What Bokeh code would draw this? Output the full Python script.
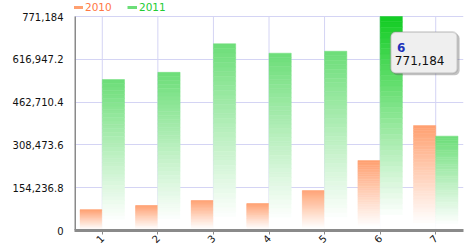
from bokeh.plotting import figure
from bokeh.models import (FixedTicker, Range1d, BoxAnnotation, Label, Legend, LegendItem,
                          ColumnDataSource)
from bokeh.embed import file_html
from bokeh.resources import INLINE
import math

# ---- data ----
categories = ["1", "2", "3", "4", "5", "6", "7"]
series_names = ["2010", "2011"]
values_2010 = [75000, 90000, 108000, 97000, 144000, 252000, 378000]
values_2011 = [544000, 570000, 673000, 639000, 646000, 771184, 340000]
hover_index = 5  # category "6", series 2011

y_max = max(values_2010 + values_2011)
y_ticks = [y_max * i / 5 for i in range(6)]

def fmt(v):
    s = "{:,.1f}".format(v)
    return s[:-2] if s.endswith(".0") else s

y_labels = {t: fmt(t) for t in y_ticks}

FONT = "DejaVu Sans"
c2010 = (255, 160, 112)
c2011 = (108, 222, 120)
c_hover = (17, 204, 34)
GRID = "#d4d4f4"
AXIS = "#8a8a8a"

# frame spans the full top of the canvas; the value scale tops out 16px below it
head = 230.0 / 214.0
p = figure(width=466, height=250, output_backend="svg", toolbar_location=None,
           x_range=Range1d(0.5, len(categories) + 0.5), y_range=Range1d(0, y_max * head),
           min_border_left=74, min_border_right=3, min_border_top=0, min_border_bottom=20)
p.outline_line_color = None
p.background_fill_color = "white"
p.border_fill_color = "white"

def mix(c, t):
    r = [int(round(255 + (ci - 255) * t)) for ci in c]
    return "#%02x%02x%02x" % tuple(r)

# vertical grid lines and the value axis line (stop at the top of the scale)
xs_grid = list(range(1, len(categories) + 1))
p.segment(x0=xs_grid, x1=xs_grid, y0=[0] * len(xs_grid), y1=[y_max] * len(xs_grid),
          line_color=GRID, line_width=1)

N = 40
def gradient_bars(vals, offset, color, hover=None):
    xs, bottoms, tops, cols = [], [], [], []
    for i, v in enumerate(vals):
        base = hover if (hover is not None and i == hover_index) else color
        for k in range(N):
            t = (k + 0.5) / N
            tt = max(0.0, min(1.0, (t - 0.06) / 0.94)) ** 1.05
            xs.append(i + 1 + offset)
            bottoms.append(v * k / N)
            tops.append(v * (k + 1) / N)
            cols.append(mix(base, tt))
    src = ColumnDataSource(dict(x=xs, bottom=bottoms, top=tops, color=cols))
    p.vbar(x="x", bottom="bottom", top="top", width=0.4, fill_color="color",
           line_color="color", line_width=0.5, source=src)

gradient_bars(values_2010, -0.2, c2010)
gradient_bars(values_2011, 0.2, c2011, hover=c_hover)

p.segment(x0=[0.5], x1=[0.5], y0=[0], y1=[y_max], line_color=AXIS, line_width=3)

# axes
p.xaxis.ticker = FixedTicker(ticks=xs_grid)
p.xaxis.major_label_overrides = {i + 1: c for i, c in enumerate(categories)}
p.xaxis.major_label_orientation = math.pi / 4
p.yaxis.ticker = FixedTicker(ticks=y_ticks)
p.yaxis.major_label_overrides = y_labels
for ax in (p.xaxis, p.yaxis):
    ax.major_tick_line_color = AXIS
    ax.major_tick_line_width = 1
    ax.minor_tick_line_color = None
    ax.major_label_text_font = FONT
    ax.major_label_text_font_size = "10px"
    ax.major_label_text_color = "#111111"
p.xaxis.axis_line_color = AXIS
p.xaxis.axis_line_width = 3
p.yaxis.axis_line_color = None
p.xaxis.major_tick_out = 4
p.xaxis.major_tick_in = 0
p.xaxis.major_label_standoff = 2
p.yaxis.major_tick_out = 0
p.yaxis.major_tick_in = 0
p.yaxis.major_label_standoff = 11

p.xgrid.grid_line_color = None
p.ygrid.grid_line_color = GRID
p.ygrid.grid_line_width = 1

# tooltip for hovered bar
hx = hover_index + 1
hv = values_2011[hover_index]
p.add_layout(BoxAnnotation(left=hx + 0.23, right=hx + 1.43, top=hv * 0.92, bottom=hv * 0.725,
                           fill_color="#555555", fill_alpha=0.35, line_color=None,
                           border_radius=5))
p.add_layout(BoxAnnotation(left=hx + 0.19, right=hx + 1.39, top=hv * 0.927, bottom=hv * 0.735,
                           fill_color="#efefef", fill_alpha=1, line_color="#8a8a8a",
                           line_width=2, border_radius=5))
p.add_layout(Label(x=hx + 0.305, y=hv * 0.855, text=categories[hover_index],
                   text_font=FONT, text_font_size="12px", text_font_style="bold",
                   text_color="#2233bb", text_baseline="middle"))
p.add_layout(Label(x=hx + 0.265, y=hv * 0.795, text=fmt(hv),
                   text_font=FONT, text_font_size="12px",
                   text_color="#111111", text_baseline="middle"))

# legend (swatch renderers sit outside the visible range)
r1 = p.line(x=[-5, -4], y=[0, 0], line_color=mix(c2010, 1), line_width=3)
r2 = p.line(x=[-5, -4], y=[0, 0], line_color=mix(c2011, 1), line_width=3)
for r, name, col, loc in [(r1, series_names[0], "#ff7744", (-1, 217)),
                          (r2, series_names[1], "#22cc33", (53, 217))]:
    lg = Legend(items=[LegendItem(label=name, renderers=[r])], location=loc,
                orientation="horizontal", background_fill_alpha=0,
                border_line_alpha=0, padding=0, margin=0, glyph_width=10,
                glyph_height=10, label_standoff=2, label_text_font=FONT,
                label_text_font_size="10.5px", label_text_color=col,
                label_height=10)
    p.add_layout(lg, "center")

open("out.html", "w").write(file_html(p, INLINE))
